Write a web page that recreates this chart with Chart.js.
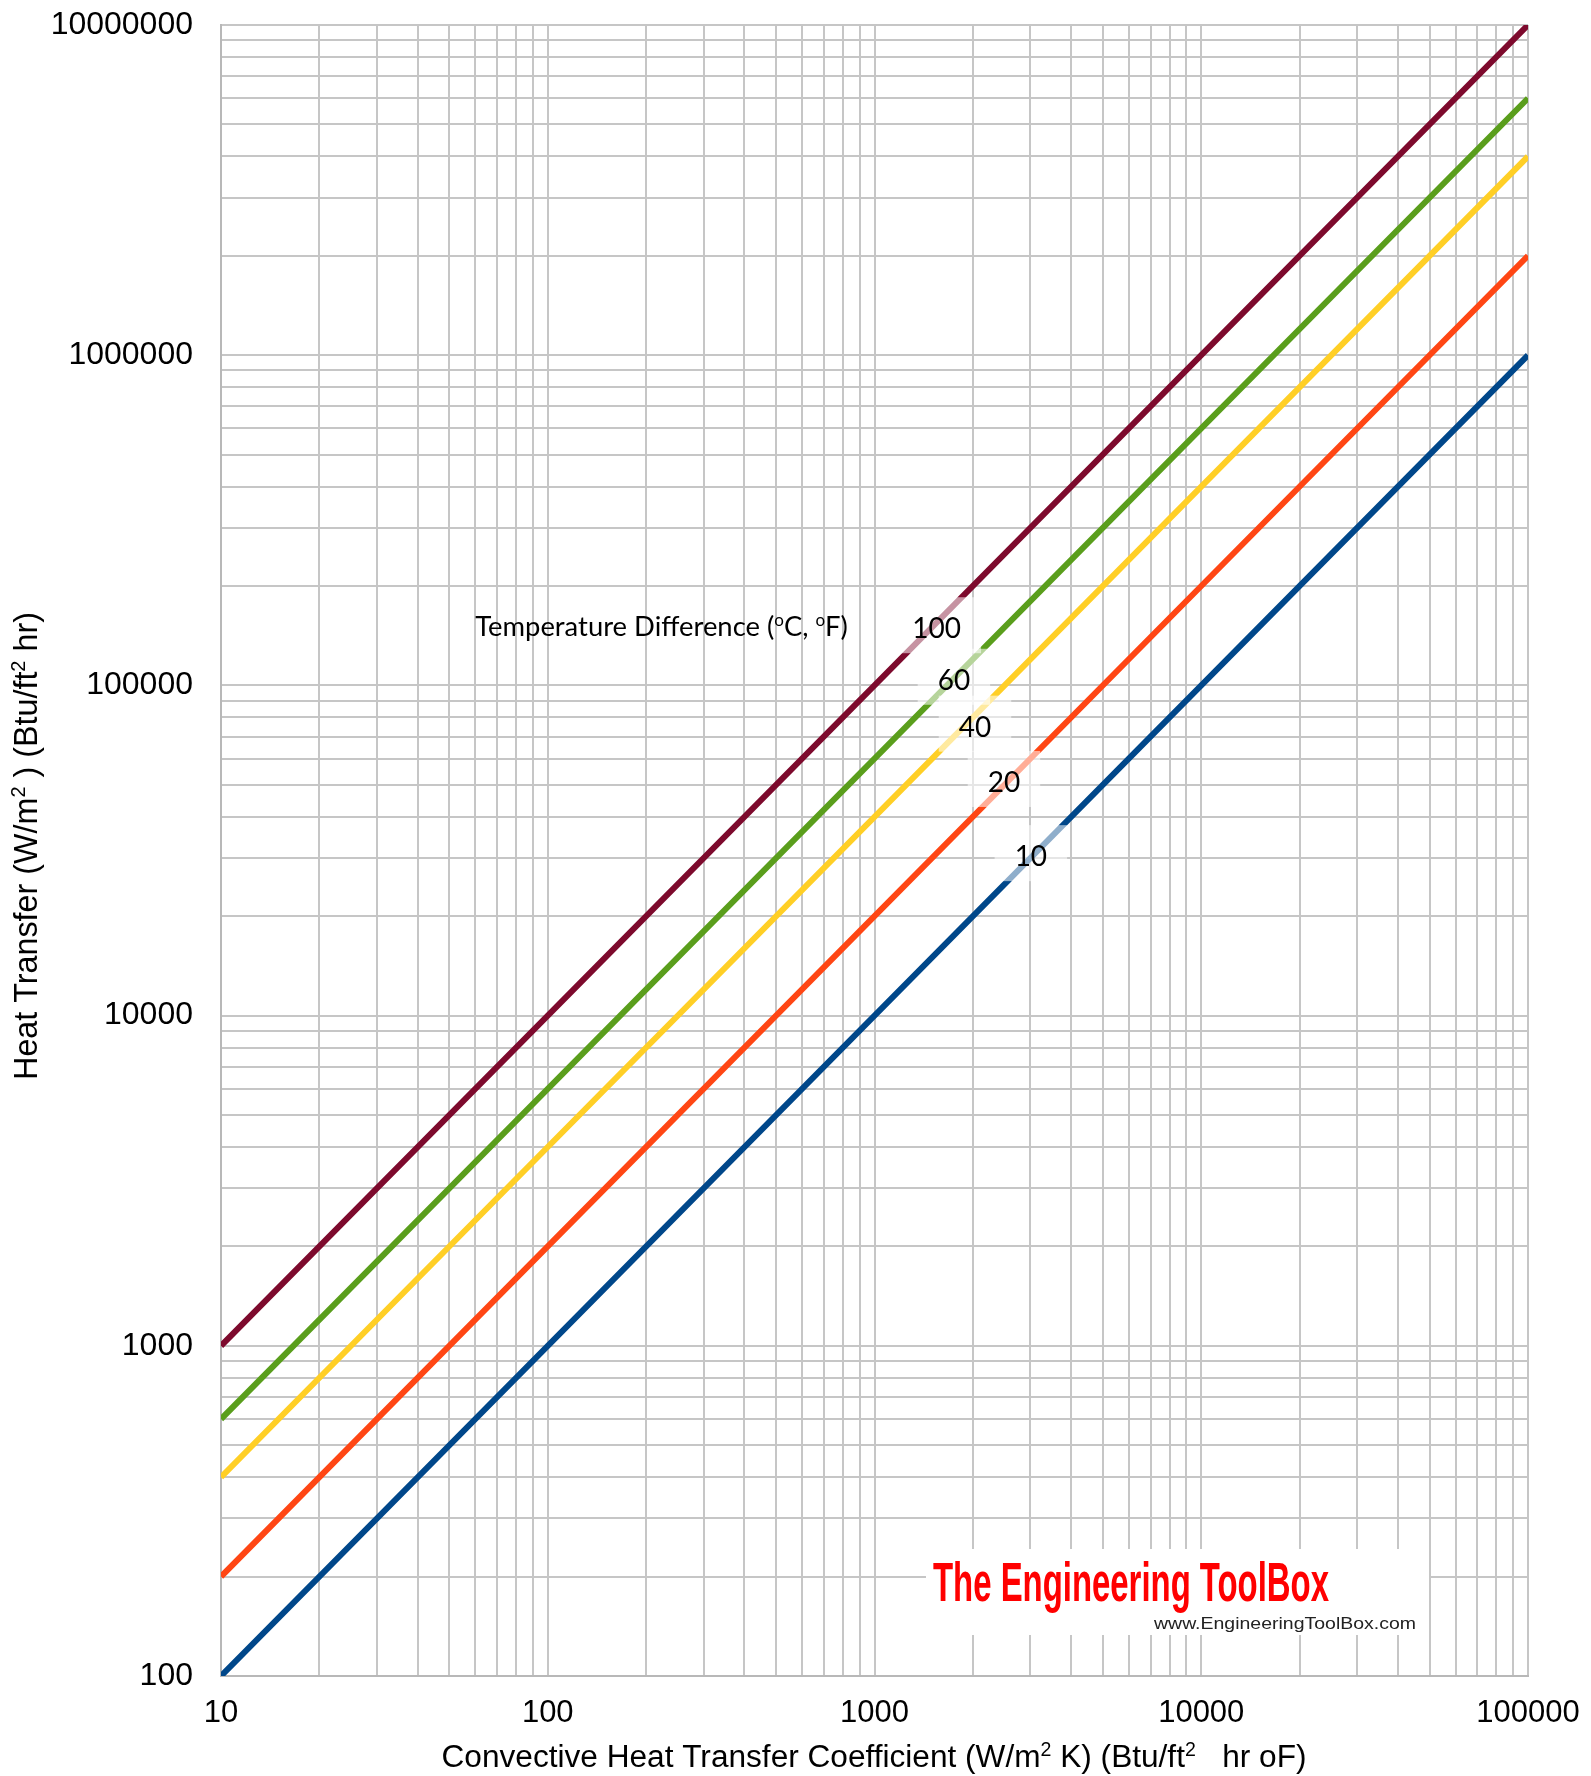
<!DOCTYPE html>
<html><head><meta charset="utf-8">
<script src="https://cdn.jsdelivr.net/npm/chart.js@4.4.1/dist/chart.umd.min.js"></script>
<style>html,body{margin:0;padding:0;background:#fff}canvas{display:block}</style>
</head><body>
<canvas id="c" width="1591" height="1776"></canvas>
<script>
// ---- data ----
const hValues = [10, 100, 1000, 10000, 100000];           // W/m2K
const seriesNames = ['100', '60', '40', '20', '10'];      // temperature difference
const q100 = [1000, 10000, 100000, 1000000, 10000000];
const q60  = [600, 6000, 60000, 600000, 6000000];
const q40  = [400, 4000, 40000, 400000, 4000000];
const q20  = [200, 2000, 20000, 200000, 2000000];
const q10  = [100, 1000, 10000, 100000, 1000000];
const xTickLabels = ['10', '100', '1000', '10000', '100000'];
const yTickLabels = ['100', '1000', '10000', '100000', '1000000', '10000000'];
// label anchors (data coordinates)
const labelAnchorX = [1550, 1750, 2030, 2490, 3010];
const labelAnchorY = [149000, 104000, 75000, 51000, 30400];
const legendTitleAnchor = [223, 151000];

const seriesValues = [q100, q60, q40, q20, q10];
const seriesColors = ['#7D0A2D', '#5A9E1C', '#FFCF26', '#FF4614', '#00478A'];

const SANS = "'Liberation Sans', Arial, sans-serif";
const CAL = "Lato, 'Open Sans', sans-serif";

function gridTicks(labels) {
  const min = Number(labels[0]), max = Number(labels[labels.length - 1]);
  const t = [];
  for (let d = min; d < max; d *= 10) for (let k = 1; k < 10; k++) t.push({ value: d * k, major: k === 1 });
  t.push({ value: max, major: true });
  return t;
}
function noPad(s) { s.paddingTop = 0; s.paddingBottom = 0; s.paddingLeft = 0; s.paddingRight = 0; }

function segFont(s, size, fam, weight) { return `${weight} ${s.sup ? size * 0.62 : size}px ${fam}`; }
function richWidth(ctx, segs, size, fam, weight) {
  let w = 0;
  for (const s of segs) { ctx.font = segFont(s, size, fam, weight); w += ctx.measureText(s.t).width; }
  return w;
}
function fitSize(ctx, segs, target, fam, weight) {
  return 30 * target / richWidth(ctx, segs, 30, fam, weight);
}
function drawRich(ctx, segs, cx, cy, size, fam, weight, color) {
  const w = richWidth(ctx, segs, size, fam, weight);
  let x = cx - w / 2;
  const base = cy + size * 0.36;
  ctx.fillStyle = color; ctx.textBaseline = 'alphabetic'; ctx.textAlign = 'left';
  for (const s of segs) {
    ctx.font = segFont(s, size, fam, weight);
    ctx.fillText(s.t, x, s.sup ? base - size * 0.36 : base);
    x += ctx.measureText(s.t).width;
  }
}

const xTitle = [{ t: 'Convective Heat Transfer Coefficient (W/m' }, { t: '2', sup: true }, { t: ' K) (Btu/ft' }, { t: '2', sup: true }, { t: '   hr oF)' }];
const yTitle = [{ t: 'Heat Transfer (W/m' }, { t: '2', sup: true }, { t: ' ) (Btu/ft' }, { t: '2', sup: true }, { t: ' hr)' }];
const legTitle = [{ t: 'Temperature Difference (' }, { t: 'o', sup: true }, { t: 'C, ' }, { t: 'o', sup: true }, { t: 'F)' }];

const decor = {
  id: 'decor',
  afterDatasetsDraw(chart) {
    const ctx = chart.ctx, xs = chart.scales.x, ys = chart.scales.y;
    ctx.save();
    // series labels with semi-transparent boxes
    ctx.font = `28px ${CAL}`;
    seriesNames.forEach((n, i) => {
      const px = xs.getPixelForValue(labelAnchorX[i]);
      const py = ys.getPixelForValue(labelAnchorY[i]);
      const w = ctx.measureText(n).width;
      ctx.fillStyle = 'rgba(255,255,255,0.56)';
      ctx.fillRect(px - w / 2 - 20, py - 31, w + 40, 56);
    });
    seriesNames.forEach((n, i) => {
      const px = xs.getPixelForValue(labelAnchorX[i]);
      const py = ys.getPixelForValue(labelAnchorY[i]);
      drawRich(ctx, [{ t: n }], px, py, 28, CAL, 'normal', '#000');
    });
    // legend title
    const lsz = fitSize(ctx, legTitle, 373, CAL, 'normal');
    drawRich(ctx, legTitle, xs.getPixelForValue(legendTitleAnchor[0]), ys.getPixelForValue(legendTitleAnchor[1]), lsz, CAL, 'normal', '#000');

    // logo
    ctx.fillStyle = '#fff';
    ctx.fillRect(926, 1549, 503, 86);
    const logo = 'The Engineering ToolBox';
    ctx.font = `bold 56px ${SANS}`;
    const lw = ctx.measureText(logo).width;
    ctx.save();
    ctx.translate(933, 1601);
    ctx.scale(396 / lw, 1);
    ctx.fillStyle = '#FF0000'; ctx.textAlign = 'left'; ctx.textBaseline = 'alphabetic';
    ctx.fillText(logo, 0, 0);
    ctx.restore();
    const url = 'www.EngineeringToolBox.com';
    ctx.font = `17px ${SANS}`;
    const uw = ctx.measureText(url).width;
    ctx.save();
    ctx.translate(1154, 1629);
    ctx.scale(262 / uw, 1);
    ctx.fillStyle = '#222'; ctx.textAlign = 'left';
    ctx.fillText(url, 0, 0);
    ctx.restore();

    // axis titles
    const xsz = fitSize(ctx, xTitle, 865, SANS, 'normal');
    drawRich(ctx, xTitle, 874, 1756, xsz, SANS, 'normal', '#000');
    const ysz = fitSize(ctx, yTitle, 468, SANS, 'normal');
    ctx.save();
    ctx.translate(25, 846);
    ctx.rotate(-Math.PI / 2);
    drawRich(ctx, yTitle, 0, 0, ysz, SANS, 'normal', '#000');
    ctx.restore();
    ctx.restore();
  }
};

const datasets = seriesNames.map((n, i) => ({
  label: n,
  data: hValues.map((h, j) => ({ x: h, y: seriesValues[i][j] })),
  borderColor: seriesColors[i],
  backgroundColor: seriesColors[i],
  borderWidth: 6,
  pointRadius: 0,
  tension: 0,
  fill: false
}));

Chart.defaults.font.family = SANS;
Chart.defaults.color = '#000';

new Chart(document.getElementById('c'), {
  type: 'line',
  data: { datasets },
  options: {
    responsive: false,
    animation: false,
    events: [],
    layout: { autoPadding: false, padding: { left: 0, top: 25, right: 63, bottom: 0 } },
    plugins: { legend: { display: false }, tooltip: { enabled: false } },
    scales: {
      x: {
        type: 'logarithmic', min: 10, max: 100000,
        afterBuildTicks(s) { s.ticks = gridTicks(xTickLabels); },
        afterFit(s) { s.height = 100; noPad(s); },
        grid: { color: '#c6c6c6', lineWidth: 2, drawTicks: false },
        border: { color: '#b8b8b8', width: 2 },
        ticks: {
          autoSkip: false, maxRotation: 0, padding: 19,
          font: { size: 31 },
          callback(v) { const i = xTickLabels.indexOf(String(v)); return i >= 0 ? xTickLabels[i] : ''; }
        }
      },
      y: {
        type: 'logarithmic', min: 100, max: 10000000,
        afterBuildTicks(s) { s.ticks = gridTicks(yTickLabels); },
        afterFit(s) { s.width = 221; noPad(s); },
        grid: { color: '#c6c6c6', lineWidth: 2, drawTicks: false },
        border: { color: '#b8b8b8', width: 2 },
        ticks: {
          autoSkip: false, padding: 28,
          font: { size: 32 },
          callback(v) { const i = yTickLabels.indexOf(String(v)); return i >= 0 ? yTickLabels[i] : ''; }
        }
      }
    }
  },
  plugins: [decor]
});
</script>
</body></html>
